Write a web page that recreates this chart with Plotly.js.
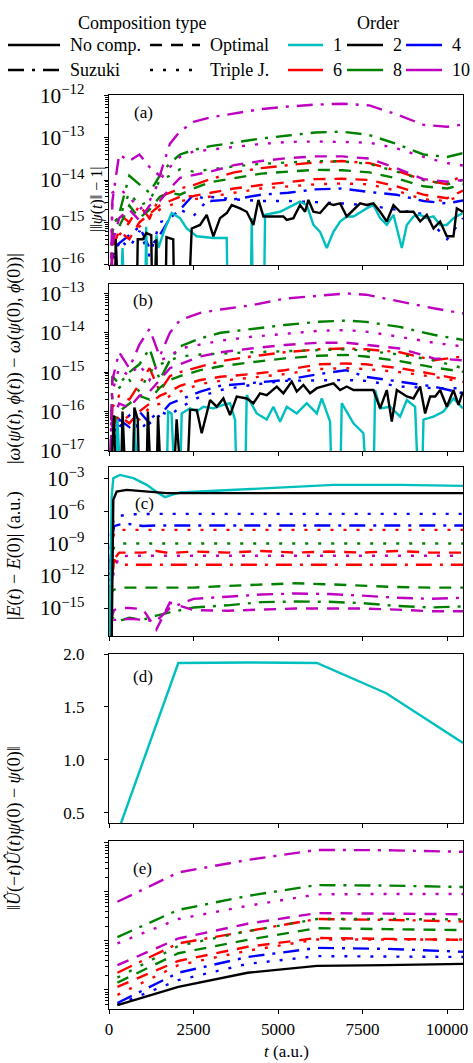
<!DOCTYPE html>
<html><head><meta charset="utf-8">
<script src="https://cdn.plot.ly/plotly-3.0.1.min.js"></script>
<style>body{margin:0;background:#fff}#chart{width:473px;height:1063px}</style>
</head><body><div id="chart"></div>
<script>
// ---------- panel (a): | ||psi(t)|| - 1 | ----------
const tA = [20, 100, 300, 600, 900, 1200, 1500, 1800, 2100, 2500, 3000, 3700, 4500, 5300, 6100, 6900, 7700, 8500, 9300, 10000, 10470];
const a_S10 = [1e-18, 3.2e-15, 4.0e-14, 2.8e-14, 4.0e-14, 2.0e-14, 1.26e-14, 7.1e-14, 1.41e-13, 2.34e-13, 3.0e-13, 3.7e-13, 4.7e-13, 5.4e-13, 6.0e-13, 6.3e-13, 5.75e-13, 3.55e-13, 2.0e-13, 1.8e-13, 2.04e-13];
const a_T10 = [1e-18, 5.0e-15, 6.3e-15, 4.0e-15, 2.0e-15, 3.2e-15, 1.0e-14, 2.0e-14, 3.5e-14, 4.7e-14, 5.2e-14, 6.0e-14, 7.1e-14, 7.9e-14, 8.1e-14, 7.9e-14, 7.6e-14, 5.6e-14, 3.5e-14, 2.5e-14, 2.2e-14];
const a_O10 = [1e-18, 3.2e-16, 1.26e-15, 2.0e-15, 1.12e-15, 2.5e-15, 3.2e-15, 6.3e-15, 1.12e-14, 1.32e-14, 1.58e-14, 2.24e-14, 2.8e-14, 3.3e-14, 3.6e-14, 3.6e-14, 3.2e-14, 1.9e-14, 1.05e-14, 9.1e-15, 1.0e-14];
const a_S8 = [1e-18, 6.3e-16, 1.58e-15, 1.26e-14, 7.9e-15, 5.0e-15, 1.26e-14, 2.5e-14, 4.0e-14, 5.1e-14, 6.3e-14, 7.6e-14, 9.5e-14, 1.12e-13, 1.32e-13, 1.38e-13, 1.15e-13, 7.1e-14, 4.0e-14, 3.5e-14, 4.3e-14];
const a_T8 = [1e-18, 1.0e-15, 1.26e-15, 5.0e-15, 2.5e-15, 3.2e-15, 1.0e-14, 1.26e-14, 1.78e-14, 1.58e-14, 1.78e-14, 2.1e-14, 2.4e-14, 2.6e-14, 2.8e-14, 2.75e-14, 2.4e-14, 1.58e-14, 1.0e-14, 7.9e-15, 1.0e-14];
const a_O8 = [1e-18, 5.0e-16, 7.9e-16, 2.5e-15, 1.26e-15, 2.0e-15, 4.0e-15, 5.0e-15, 4.5e-15, 6.3e-15, 8.9e-15, 1.12e-14, 1.41e-14, 1.58e-14, 1.74e-14, 1.7e-14, 1.51e-14, 1.1e-14, 7.1e-15, 6.3e-15, 7.9e-15];
const a_S6 = [1e-18, 6.3e-16, 1.58e-15, 1.0e-15, 2.5e-15, 1.26e-15, 4.0e-15, 5.0e-15, 6.3e-15, 7.6e-15, 1.05e-14, 1.51e-14, 1.9e-14, 2.24e-14, 2.6e-14, 2.8e-14, 2.5e-14, 1.66e-14, 1.0e-14, 7.9e-15, 1.32e-14];
const a_O6 = [1e-18, 2.5e-16, 6.3e-16, 4.0e-16, 1.0e-15, 1.58e-15, 2.5e-15, 3.2e-15, 4.0e-15, 4.2e-15, 5.0e-15, 6.3e-15, 7.6e-15, 8.9e-15, 1.05e-14, 1.07e-14, 1.0e-14, 7.1e-15, 4.5e-15, 3.7e-15, 5.6e-15];
const a_T6 = [1e-18, 3.2e-16, 5.0e-16, 1.0e-15, 7.9e-16, 1.26e-15, 2.0e-15, 2.5e-15, 3.2e-15, 3.5e-15, 4.0e-15, 5.0e-15, 6.3e-15, 7.1e-15, 7.9e-15, 8.3e-15, 7.9e-15, 5.6e-15, 3.5e-15, 3.2e-15, 4.5e-15];
const a_S4 = [1e-18, 1.58e-16, 3.2e-16, 5.0e-16, 7.9e-16, 2.5e-16, 5.0e-16, 1.26e-15, 2.0e-15, 4.5e-15, 3.2e-15, 3.5e-15, 4.5e-15, 5.0e-15, 6.0e-15, 6.3e-15, 5.2e-15, 4.5e-15, 3.2e-15, 2.8e-15, 3.3e-15];
const a_T4 = [1e-18, 1.26e-16, 4.0e-16, 2.5e-16, 6.3e-16, 1.58e-16, 1.0e-15, 1.26e-15, 2.0e-15, 1.41e-15, 4.0e-15, 3.5e-15, 3.2e-15, 3.2e-15, 3.0e-15, 2.8e-15, 2.5e-15, 2.0e-15, 1.58e-15, 4.0e-16, 1.26e-15];
const a_N2_t = [20, 150, 200, 330, 800, 850, 1000, 1100, 1250, 1300, 1400, 1450, 1650, 1700, 1900, 1950, 2300, 2446, 2693, 2890, 3087, 3284, 3482, 3630, 3876, 4073, 4271, 4419, 4567, 5158, 5257, 5454, 5651, 5799, 5898, 6046, 6243, 6490, 6638, 6835, 7032, 7230, 7427, 7624, 7821, 8019, 8216, 8413, 8610, 8808, 9005, 9202, 9399, 9597, 9794, 9991, 10188, 10287, 10465];
const a_N2 = [1e-18, 1e-18, 4e-16, 1e-18, 1e-18, 4e-16, 4e-16, 5.6e-16, 5e-16, 1e-18, 4e-16, 1e-18, 1e-18, 4.5e-16, 4e-16, 1e-18, 1e-18, 7.2e-16, 8.7e-16, 1.51e-15, 4.7e-16, 1.26e-15, 1.66e-15, 2.57e-15, 2.14e-15, 1.78e-15, 8.7e-16, 3.4e-15, 1.38e-15, 1.38e-15, 1.15e-15, 1.26e-15, 2.57e-15, 1.78e-15, 3.4e-15, 1.78e-15, 1.66e-15, 2.8e-15, 2.57e-15, 2.8e-15, 1.38e-15, 1.95e-15, 2.8e-15, 2.57e-15, 2.8e-15, 1.78e-15, 1.05e-15, 2.57e-15, 1.78e-15, 1.78e-15, 1.78e-15, 1.05e-15, 1.51e-15, 7.2e-16, 1.05e-15, 4.7e-16, 4.7e-16, 2.14e-15, 1.78e-15];
const a_N1_t = [20, 300, 400, 500, 1050, 1100, 1150, 1350, 1400, 1460, 1657, 1854, 2101, 2298, 2594, 3087, 3482, 3531, 4173, 4222, 4271, 4567, 4616, 5060, 5454, 5651, 5849, 6046, 6243, 6441, 6638, 6835, 7032, 7230, 7624, 7821, 8019, 8216, 8413, 8660, 8808, 9005, 9202, 9399, 9597, 9794, 9991, 10188, 10465];
const a_N1 = [1e-18, 1e-18, 2.5e-16, 1e-18, 1e-18, 7.9e-16, 1e-18, 1e-18, 5e-16, 2.5e-16, 7.2e-16, 1.66e-15, 1.26e-15, 7.2e-16, 4.7e-16, 4.3e-16, 4.3e-16, 1e-18, 1e-18, 1.26e-15, 1e-18, 1e-18, 1.51e-15, 1.78e-15, 2.57e-15, 3.1e-15, 2.57e-15, 8.7e-16, 6e-16, 2.5e-16, 6e-16, 1.05e-15, 1.38e-15, 1.38e-15, 2.14e-15, 2.57e-15, 1.26e-15, 8.7e-16, 1.51e-15, 2.5e-16, 8.7e-16, 1.38e-15, 1.51e-15, 1.26e-15, 1.38e-15, 8.7e-16, 8.7e-16, 1.26e-15, 1.66e-15];

// ---------- panel (b): symplectic form error ----------
const tB = [20, 100, 300, 600, 900, 1200, 1500, 1800, 2100, 2700, 3300, 4200, 5200, 6200, 7000, 7600, 8600, 9600, 10470];
const b_S10 = [1e-18, 6.3e-16, 3.2e-15, 1.26e-15, 5.0e-15, 1.26e-14, 2.5e-15, 1.0e-14, 2.1e-14, 3.2e-14, 3.9e-14, 5.0e-14, 7.4e-14, 8.9e-14, 1.0e-13, 9.3e-14, 6.2e-14, 4.2e-14, 3.1e-14];
const b_T10 = [1e-18, 3.2e-16, 1.26e-15, 7.9e-16, 1.58e-15, 6.3e-16, 2.0e-15, 2.5e-15, 4.0e-15, 5.0e-15, 6.3e-15, 7.9e-15, 9.5e-15, 1.12e-14, 1.17e-14, 1.07e-14, 7.9e-15, 5.6e-15, 4.5e-15];
const b_O10 = [1e-18, 6.3e-17, 1.58e-16, 1.26e-16, 2.5e-16, 3.2e-16, 6.3e-16, 1.26e-15, 1.58e-15, 2.5e-15, 3.2e-15, 4.0e-15, 4.9e-15, 5.6e-15, 5.6e-15, 5.0e-15, 4.0e-15, 2.24e-15, 2.0e-15];
const b_S8 = [1e-18, 7.9e-16, 5.0e-16, 1.0e-15, 1.58e-15, 4.0e-15, 6.3e-16, 2.0e-15, 4.5e-15, 7.2e-15, 1.0e-14, 1.26e-14, 1.58e-14, 1.9e-14, 2.04e-14, 1.9e-14, 1.41e-14, 8.9e-15, 6.6e-15];
const b_T8 = [1e-18, 2.5e-16, 4.0e-16, 6.3e-16, 3.2e-16, 1.0e-15, 1.58e-15, 2.0e-15, 2.5e-15, 2.8e-15, 3.0e-15, 3.2e-15, 3.4e-15, 3.6e-15, 3.8e-15, 3.5e-15, 2.8e-15, 2.0e-15, 1.26e-15];
const b_O8 = [1e-18, 5.0e-17, 1.0e-16, 1.58e-16, 2.5e-16, 2.0e-16, 4.0e-16, 6.3e-16, 7.9e-16, 1.12e-15, 1.41e-15, 1.78e-15, 2.24e-15, 2.6e-15, 2.75e-15, 2.5e-15, 1.9e-15, 1.32e-15, 1.02e-15];
const b_S6 = [1e-18, 1.26e-16, 2.5e-16, 2.0e-16, 5.0e-16, 1.26e-15, 3.2e-16, 7.9e-16, 1.0e-15, 1.41e-15, 1.9e-15, 2.5e-15, 3.2e-15, 3.8e-15, 4.0e-15, 3.8e-15, 3.2e-15, 2.0e-15, 2.5e-15];
const b_O6 = [1e-18, 4.0e-17, 7.9e-17, 5.0e-17, 1.0e-16, 1.58e-16, 2.5e-16, 3.2e-16, 4.5e-16, 6.3e-16, 7.6e-16, 8.9e-16, 1.12e-15, 1.58e-15, 1.66e-15, 1.58e-15, 1.26e-15, 8.9e-16, 6.3e-16];
const b_T6 = [1e-18, 3.2e-17, 5.0e-17, 7.9e-17, 6.3e-17, 1.26e-16, 1.58e-16, 2.5e-16, 3.2e-16, 5.0e-16, 6.0e-16, 7.1e-16, 8.9e-16, 1.2e-15, 1.26e-15, 1.2e-15, 1.0e-15, 7.6e-16, 5.6e-16];
const b_S4 = [1e-18, 2.5e-17, 6.3e-17, 4.0e-17, 1.0e-16, 5.0e-17, 7.9e-17, 1.58e-16, 2.0e-16, 3.2e-16, 4.5e-16, 5.2e-16, 6.3e-16, 8.9e-16, 1.12e-15, 7.6e-16, 5.6e-16, 4.3e-16, 2.9e-16];
const b_T4 = [1e-18, 1.58e-17, 4.0e-17, 7.9e-17, 3.2e-17, 6.3e-17, 1.0e-16, 7.9e-17, 1.26e-16, 2.4e-16, 3.5e-16, 4.7e-16, 6.0e-16, 6.3e-16, 6.3e-16, 6.0e-16, 4.3e-16, 3.9e-16, 3.9e-16];
const b_N2_t = [20, 150, 200, 350, 400, 500, 700, 750, 850, 900, 1100, 1150, 1250, 1400, 1450, 1550, 1900, 2000, 2150, 2300, 2397, 2594, 2742, 2989, 3186, 3383, 3580, 3778, 4073, 4271, 4468, 4665, 4961, 5158, 5405, 5553, 5750, 5947, 6145, 6342, 6638, 6835, 7032, 7230, 7525, 7821, 8019, 8216, 8364, 8512, 8808, 9005, 9202, 9350, 9498, 9646, 9794, 9991, 10188, 10337, 10465];
const b_N2 = [1e-18, 7.9e-17, 1e-18, 1e-18, 1.0e-16, 1e-18, 1e-18, 1.26e-16, 6.3e-17, 1e-18, 1e-18, 1.0e-16, 1e-18, 1e-18, 7.9e-17, 1e-18, 1e-18, 6.3e-17, 1e-18, 1e-18, 1.1e-16, 1.1e-16, 2.8e-17, 1.95e-16, 1.32e-16, 2.14e-16, 8.1e-17, 2.4e-16, 2.14e-16, 1.62e-16, 2.9e-16, 2.6e-16, 4.3e-16, 2.9e-16, 5.75e-16, 3.2e-16, 4.7e-16, 2.9e-16, 3.9e-16, 4.3e-16, 5.2e-16, 3.5e-16, 4.3e-16, 3.5e-16, 3.5e-16, 3.5e-16, 1.2e-16, 3.5e-16, 5.5e-17, 3.5e-16, 2.4e-16, 2.14e-16, 4.3e-16, 8.9e-17, 2.4e-16, 2.4e-16, 3.5e-16, 1.32e-16, 3.5e-16, 1.48e-16, 3.2e-16];
const b_N1_t = [20, 200, 250, 350, 700, 750, 850, 1700, 1750, 1850, 1950, 2100, 2150, 2397, 2594, 2791, 3087, 3383, 3580, 3728, 3777, 4024, 4073, 4369, 4665, 4862, 5060, 5257, 5553, 5849, 6145, 6293, 6539, 6589, 6835, 6884, 7230, 7525, 7624, 7821, 7871, 8019, 8315, 8610, 8808, 9054, 9153, 9252, 9301, 9597, 9893, 10188, 10465];
const b_N1 = [1e-18, 1e-18, 6.3e-17, 1e-18, 1e-18, 7.9e-17, 1e-18, 1e-18, 1.0e-16, 8.9e-17, 1e-18, 1e-18, 8.9e-17, 1.2e-16, 1.0e-16, 1.32e-16, 1.2e-16, 1.48e-16, 1.62e-16, 6.2e-17, 1e-18, 1e-18, 2.6e-16, 8.9e-17, 6.2e-17, 1.32e-16, 5.5e-17, 1.32e-16, 8.9e-17, 1.62e-16, 8.9e-17, 2.14e-16, 5.5e-17, 1e-18, 1e-18, 1.62e-16, 5.0e-17, 2.8e-17, 1e-18, 1e-18, 3.5e-16, 1.2e-16, 1.32e-16, 7.4e-17, 1.95e-16, 1.32e-16, 1e-18, 1e-18, 6.2e-17, 7.4e-17, 1.0e-16, 2.14e-16, 1.2e-16];

// ---------- panel (c): energy error ----------
const tC = [20, 60, 150, 300, 600, 1000, 1400, 1800, 2500, 3500, 4500, 5500, 6500, 7500, 8500, 9500, 10470];
const c_T4 = [1e-18, 1e-8, 2.5e-7, 3.5e-7, 5.0e-7, 5.6e-7, 5.6e-7, 5.6e-7, 5.6e-7, 5.6e-7, 5.6e-7, 5.6e-7, 5.6e-7, 5.6e-7, 5.6e-7, 5.6e-7, 5.6e-7];
const c_S4 = [1e-18, 1e-9, 4.0e-8, 5.6e-8, 6.3e-8, 4.2e-8, 4.7e-8, 4.7e-8, 4.7e-8, 4.7e-8, 4.7e-8, 4.7e-8, 4.7e-8, 4.7e-8, 4.7e-8, 4.7e-8, 4.7e-8];
const c_T6 = [1e-18, 1e-10, 1.0e-8, 1.8e-8, 1.8e-8, 1.8e-8, 1.8e-8, 1.8e-8, 1.8e-8, 1.8e-8, 1.8e-8, 1.8e-8, 1.8e-8, 1.8e-8, 1.8e-8, 1.8e-8, 1.8e-8];
const c_T8 = [1e-18, 1e-11, 5e-10, 1.0e-9, 1.0e-9, 1.0e-9, 1.0e-9, 1.0e-9, 1.0e-9, 1.0e-9, 1.0e-9, 1.0e-9, 1.0e-9, 1.0e-9, 1.0e-9, 1.0e-9, 1.0e-9];
const c_O6 = [1e-18, 1e-13, 3.2e-11, 1.41e-10, 1.41e-10, 1.41e-10, 2.0e-10, 1.26e-10, 1.78e-10, 1.41e-10, 2.0e-10, 1.41e-10, 1.78e-10, 1.41e-10, 2.0e-10, 1.41e-10, 1.41e-10];
const c_T10 = [1e-18, 1e-13, 3.2e-12, 6.3e-11, 7.1e-11, 7.1e-11, 7.1e-11, 7.1e-11, 7.1e-11, 7.1e-11, 7.1e-11, 7.1e-11, 7.1e-11, 7.1e-11, 7.1e-11, 7.1e-11, 7.1e-11];
const c_S6 = [1e-18, 1e-13, 3.2e-11, 1.05e-11, 1.05e-11, 1.05e-11, 1.05e-11, 1.05e-11, 1.05e-11, 1.05e-11, 1.05e-11, 1.05e-11, 1.05e-11, 1.05e-11, 1.05e-11, 1.05e-11, 1.05e-11];
const c_O8 = [1e-18, 3.2e-14, 5.0e-14, 7.9e-14, 7.9e-14, 7.9e-14, 7.9e-14, 7.9e-14, 7.9e-14, 1.12e-13, 1.58e-13, 2.0e-13, 1.58e-13, 1.12e-13, 8.9e-14, 7.9e-14, 7.9e-14];
const c_S10 = [1e-18, 1.0e-16, 7.9e-17, 7.9e-17, 1.0e-16, 7.9e-17, 6.3e-17, 1.0e-15, 7.1e-15, 1.12e-14, 1.78e-14, 2.24e-14, 2.0e-14, 1.41e-14, 8.9e-15, 7.1e-15, 8.9e-15];
const c_O10 = [1e-18, 1e-16, 6.3e-16, 1.0e-15, 1.0e-15, 7.9e-16, 1e-17, 3.2e-15, 6.3e-16, 5.6e-16, 7.1e-16, 8.9e-16, 8.9e-16, 8.9e-16, 7.1e-16, 5.0e-16, 5.0e-16];
const c_S8 = [1e-18, 1.58e-16, 1.0e-16, 6.3e-17, 1.26e-16, 7.9e-17, 2.0e-16, 4.0e-16, 1.12e-15, 1.78e-15, 3.5e-15, 4.0e-15, 3.8e-15, 2.8e-15, 1.58e-15, 1.12e-15, 1.41e-15];
const c_N1_t = [20, 80, 127, 325, 720, 1115, 1460, 1657, 1854, 2100, 2690, 4665, 6638, 8610, 10470];
const c_N1 = [1e-18, 2.3e-5, 1.15e-3, 2.3e-3, 1.15e-3, 2.75e-4, 4.7e-5, 2.0e-5, 3.2e-5, 5.4e-5, 6.6e-5, 1.35e-4, 2.75e-4, 2.75e-4, 2.24e-4];
const c_N2_t = [20, 80, 127, 227, 523, 1213, 1706, 10470];
const c_N2 = [1e-18, 1e-18, 1.12e-5, 6.6e-5, 9.5e-5, 6.6e-5, 4.7e-5, 4.7e-5];

// ---------- panels (d), (e): time-reversal error ----------
const tE = [250, 2050, 4100, 6150, 8200, 10470];
const d_N1 = [0.31, 1.915, 1.92, 1.915, 1.63, 1.16];
const e_S10 = [6.3e-14, 2.5e-13, 4.5e-13, 7.2e-13, 7.1e-13, 6.6e-13];
const e_S8 = [1.2e-14, 4.3e-14, 8.3e-14, 1.38e-13, 1.35e-13, 1.26e-13];
const e_T10 = [8.9e-15, 2.8e-14, 5.2e-14, 8.9e-14, 9.1e-14, 9.1e-14];
const e_O10 = [3.2e-15, 1.12e-14, 2.24e-14, 3.7e-14, 3.6e-14, 3.5e-14];
const e_S6 = [2.24e-15, 8.9e-15, 1.58e-14, 2.8e-14, 2.7e-14, 2.5e-14];
const e_T8 = [1.78e-15, 7.9e-15, 1.58e-14, 2.8e-14, 2.8e-14, 2.75e-14];
const e_O8 = [1.41e-15, 5.6e-15, 1.05e-14, 1.82e-14, 1.74e-14, 1.66e-14];
const e_O6 = [1.15e-15, 3.9e-15, 7.6e-15, 1.15e-14, 1.1e-14, 1.05e-14];
const e_T6 = [7.9e-16, 3.2e-15, 6.3e-15, 1.07e-14, 1.07e-14, 1.07e-14];
const e_S4 = [5.4e-16, 2.24e-15, 4.7e-15, 7.2e-15, 6.9e-15, 6.0e-15];
const e_T4 = [5.0e-16, 1.58e-15, 3.4e-15, 4.9e-15, 4.8e-15, 4.7e-15];
const e_N2 = [4.9e-16, 1.15e-15, 2.24e-15, 3.1e-15, 3.2e-15, 3.4e-15];

// ---------- labels ----------
const compTypes = ['No comp.', 'Optimal', 'Suzuki', 'Triple J.'];
const orders = ['1', '2', '4', '6', '8', '10'];
const panelTags = ['(a)', '(b)', '(c)', '(d)', '(e)'];
const xTickVals = [0, 2500, 5000, 7500, 10000];
const xTickText = ['0', '2500', '5000', '7500', '10000'];

// ---------- styles ----------
const COL = {o1: '#00BFBF', o2: '#000000', o4: '#0000FF', o6: '#FF0000', o8: '#008000', o10: '#BF00BF'};
const DS = {none: 'solid', opt: '12px,9px', suz: '16px,8px,3px,8px', tj: '3px,10px'};
const LW = 2.4;
const FONT = "'Liberation Serif', 'DejaVu Serif', serif";

function ln(x, y, col, dash, k) {
  return {x: x, y: y, type: 'scatter', mode: 'lines',
    xaxis: k === 1 ? 'x' : 'x' + k, yaxis: k === 1 ? 'y' : 'y' + k,
    line: {color: col, width: LW, dash: dash}, showlegend: false, hoverinfo: 'skip'};
}

const traces = [
  ln(tA, a_T4, COL.o4, DS.tj, 1), ln(tA, a_S4, COL.o4, DS.suz, 1),
  ln(tA, a_T6, COL.o6, DS.tj, 1), ln(tA, a_O6, COL.o6, DS.opt, 1), ln(tA, a_S6, COL.o6, DS.suz, 1),
  ln(tA, a_T8, COL.o8, DS.tj, 1), ln(tA, a_O8, COL.o8, DS.opt, 1), ln(tA, a_S8, COL.o8, DS.suz, 1),
  ln(tA, a_T10, COL.o10, DS.tj, 1), ln(tA, a_O10, COL.o10, DS.opt, 1), ln(tA, a_S10, COL.o10, DS.suz, 1),
  ln(a_N1_t, a_N1, COL.o1, DS.none, 1), ln(a_N2_t, a_N2, COL.o2, DS.none, 1),
  ln(tB, b_T4, COL.o4, DS.tj, 2), ln(tB, b_S4, COL.o4, DS.suz, 2),
  ln(tB, b_T6, COL.o6, DS.tj, 2), ln(tB, b_O6, COL.o6, DS.opt, 2), ln(tB, b_S6, COL.o6, DS.suz, 2),
  ln(tB, b_T8, COL.o8, DS.tj, 2), ln(tB, b_O8, COL.o8, DS.opt, 2), ln(tB, b_S8, COL.o8, DS.suz, 2),
  ln(tB, b_T10, COL.o10, DS.tj, 2), ln(tB, b_O10, COL.o10, DS.opt, 2), ln(tB, b_S10, COL.o10, DS.suz, 2),
  ln(b_N1_t, b_N1, COL.o1, DS.none, 2), ln(b_N2_t, b_N2, COL.o2, DS.none, 2),
  ln(tC, c_T4, COL.o4, DS.tj, 3), ln(tC, c_S4, COL.o4, DS.suz, 3),
  ln(tC, c_T6, COL.o6, DS.tj, 3), ln(tC, c_O6, COL.o6, DS.opt, 3), ln(tC, c_S6, COL.o6, DS.suz, 3),
  ln(tC, c_T8, COL.o8, DS.tj, 3), ln(tC, c_O8, COL.o8, DS.opt, 3), ln(tC, c_S8, COL.o8, DS.suz, 3),
  ln(tC, c_T10, COL.o10, DS.tj, 3), ln(tC, c_O10, COL.o10, DS.opt, 3), ln(tC, c_S10, COL.o10, DS.suz, 3),
  ln(c_N1_t, c_N1, COL.o1, DS.none, 3), ln(c_N2_t, c_N2, COL.o2, DS.none, 3),
  ln(tE, d_N1, COL.o1, DS.none, 4),
  ln(tE, e_T4, COL.o4, DS.tj, 5), ln(tE, e_S4, COL.o4, DS.suz, 5),
  ln(tE, e_T6, COL.o6, DS.tj, 5), ln(tE, e_O6, COL.o6, DS.opt, 5), ln(tE, e_S6, COL.o6, DS.suz, 5),
  ln(tE, e_T8, COL.o8, DS.tj, 5), ln(tE, e_O8, COL.o8, DS.opt, 5), ln(tE, e_S8, COL.o8, DS.suz, 5),
  ln(tE, e_T10, COL.o10, DS.tj, 5), ln(tE, e_O10, COL.o10, DS.opt, 5), ln(tE, e_S10, COL.o10, DS.suz, 5),
  ln(tE, e_N2, COL.o2, DS.none, 5)
];

const frame = {showline: true, mirror: true, linecolor: 'black', linewidth: 1.2,
  ticks: 'outside', ticklen: 4, tickwidth: 1, tickcolor: 'black', showgrid: false, zeroline: false,
  tickfont: {family: FONT, size: 17, color: 'black'}};
function xax(k, labels) {
  return Object.assign({}, frame, {domain: [0, 1], anchor: k === 1 ? 'y' : 'y' + k,
    range: [0, 10470], tickmode: 'array', tickvals: xTickVals, ticktext: xTickText, showticklabels: labels});
}
const minorLog = {ticks: 'outside', ticklen: 2.5, tickcolor: 'black', dtick: 'D1', showgrid: false};
function yax(k, dom, extra) {
  return Object.assign({}, frame, {domain: dom, anchor: k === 1 ? 'x' : 'x' + k, ticklabelstandoff: 16}, extra);
}

const P = {l: 109, r: 10, t: 95, b: 54};
const W = 473 - P.l - P.r, H = 1063 - P.t - P.b;
const px = (x) => (x - P.l) / W;
const py = (y) => (1063 - P.b - y) / H;

const ann = [];
const shapes = [];
function txt(x, y, s, anchor, size, angle) {
  ann.push({xref: 'paper', yref: 'paper', x: px(x), y: py(y), text: s, showarrow: false,
    xanchor: anchor || 'center', yanchor: 'middle', textangle: angle || 0,
    font: {family: FONT, size: size || 17, color: 'black'}});
}
function seg(x0, x1, y, col, dash) {
  shapes.push({type: 'line', xref: 'paper', yref: 'paper', x0: px(x0), x1: px(x1), y0: py(y), y1: py(y),
    line: {color: col, width: LW, dash: dash}});
}

txt(142, 23, 'Composition type', 'center', 18);
txt(378, 23, 'Order', 'center', 18);
seg(8, 60, 45, '#000', DS.none); txt(68, 45, compTypes[0], 'left', 18);
seg(150, 200, 45, '#000', DS.opt); txt(208, 45, compTypes[1], 'left', 18);
seg(8, 60, 70, '#000', DS.suz); txt(68, 70, compTypes[2], 'left', 18);
seg(150, 200, 70, '#000', DS.tj); txt(208, 70, compTypes[3], 'left', 18);
seg(288, 323, 45, COL.o1, DS.none); txt(331, 45, orders[0], 'left', 18);
seg(347, 383, 45, COL.o2, DS.none); txt(391, 45, orders[1], 'left', 18);
seg(406, 442, 45, COL.o4, DS.none); txt(450, 45, orders[2], 'left', 18);
seg(288, 323, 70, COL.o6, DS.none); txt(331, 70, orders[3], 'left', 18);
seg(347, 383, 70, COL.o8, DS.none); txt(391, 70, orders[4], 'left', 18);
seg(406, 442, 70, COL.o10, DS.none); txt(450, 70, orders[5], 'left', 18);

txt(143, 112, panelTags[0]);
txt(143, 300, panelTags[1]);
txt(144, 503, panelTags[2]);
txt(143, 676, panelTags[3]);
txt(142, 868, panelTags[4]);

txt(97, 200, '|‖<i>ψ</i>(<i>t</i>)‖ − 1|', 'center', 16, -90);
txt(14, 358, '|<i>ω</i>(<i>ψ</i>(<i>t</i>), <i>ϕ</i>(<i>t</i>)) − <i>ω</i>(<i>ψ</i>(0), <i>ϕ</i>(0))|', 'center', 18, -90);
txt(14, 555, '|<i>E</i>(<i>t</i>) − <i>E</i>(0)| (a.u.)', 'center', 18, -90);
txt(14, 828, '‖<i>Û</i>(−<i>t</i>)<i>Û</i>(<i>t</i>)<i>ψ</i>(0) − <i>ψ</i>(0)‖', 'center', 18, -90);
txt(286, 1051, '<i>t</i> (a.u.)', 'center', 17);

const dom = (top, bot) => [py(bot), py(top)];

const layout = {
  width: 473, height: 1063, margin: P, paper_bgcolor: '#fff', plot_bgcolor: '#fff',
  font: {family: FONT, size: 17, color: 'black'}, showlegend: false,
  xaxis: xax(1, false), xaxis2: xax(2, false), xaxis3: xax(3, false), xaxis4: xax(4, false), xaxis5: xax(5, true),
  yaxis: yax(1, dom(95, 265), {type: 'log', range: [-16.005, -11.995], dtick: 1, exponentformat: 'power', minor: minorLog}),
  yaxis2: yax(2, dom(284, 451), {type: 'log', range: [-17.005, -12.76], dtick: 1, exponentformat: 'power', minor: minorLog}),
  yaxis3: yax(3, dom(467, 636), {type: 'log', range: [-17.6, -1.9], dtick: 3, exponentformat: 'power'}),
  yaxis4: yax(4, dom(654, 823), {range: [0.405, 2.0], tickmode: 'array', tickvals: [0.5, 1.0, 1.5, 2.0], ticktext: ['0.5', '1.0', '1.5', '2.0']}),
  yaxis5: yax(5, dom(841, 1009), {type: 'log', range: [-15.39, -11.96], dtick: 1, showticklabels: false, minor: minorLog}),
  annotations: ann, shapes: shapes
};

Plotly.newPlot('chart', traces, layout, {staticPlot: true, displayModeBar: false});
</script>
</body></html>
